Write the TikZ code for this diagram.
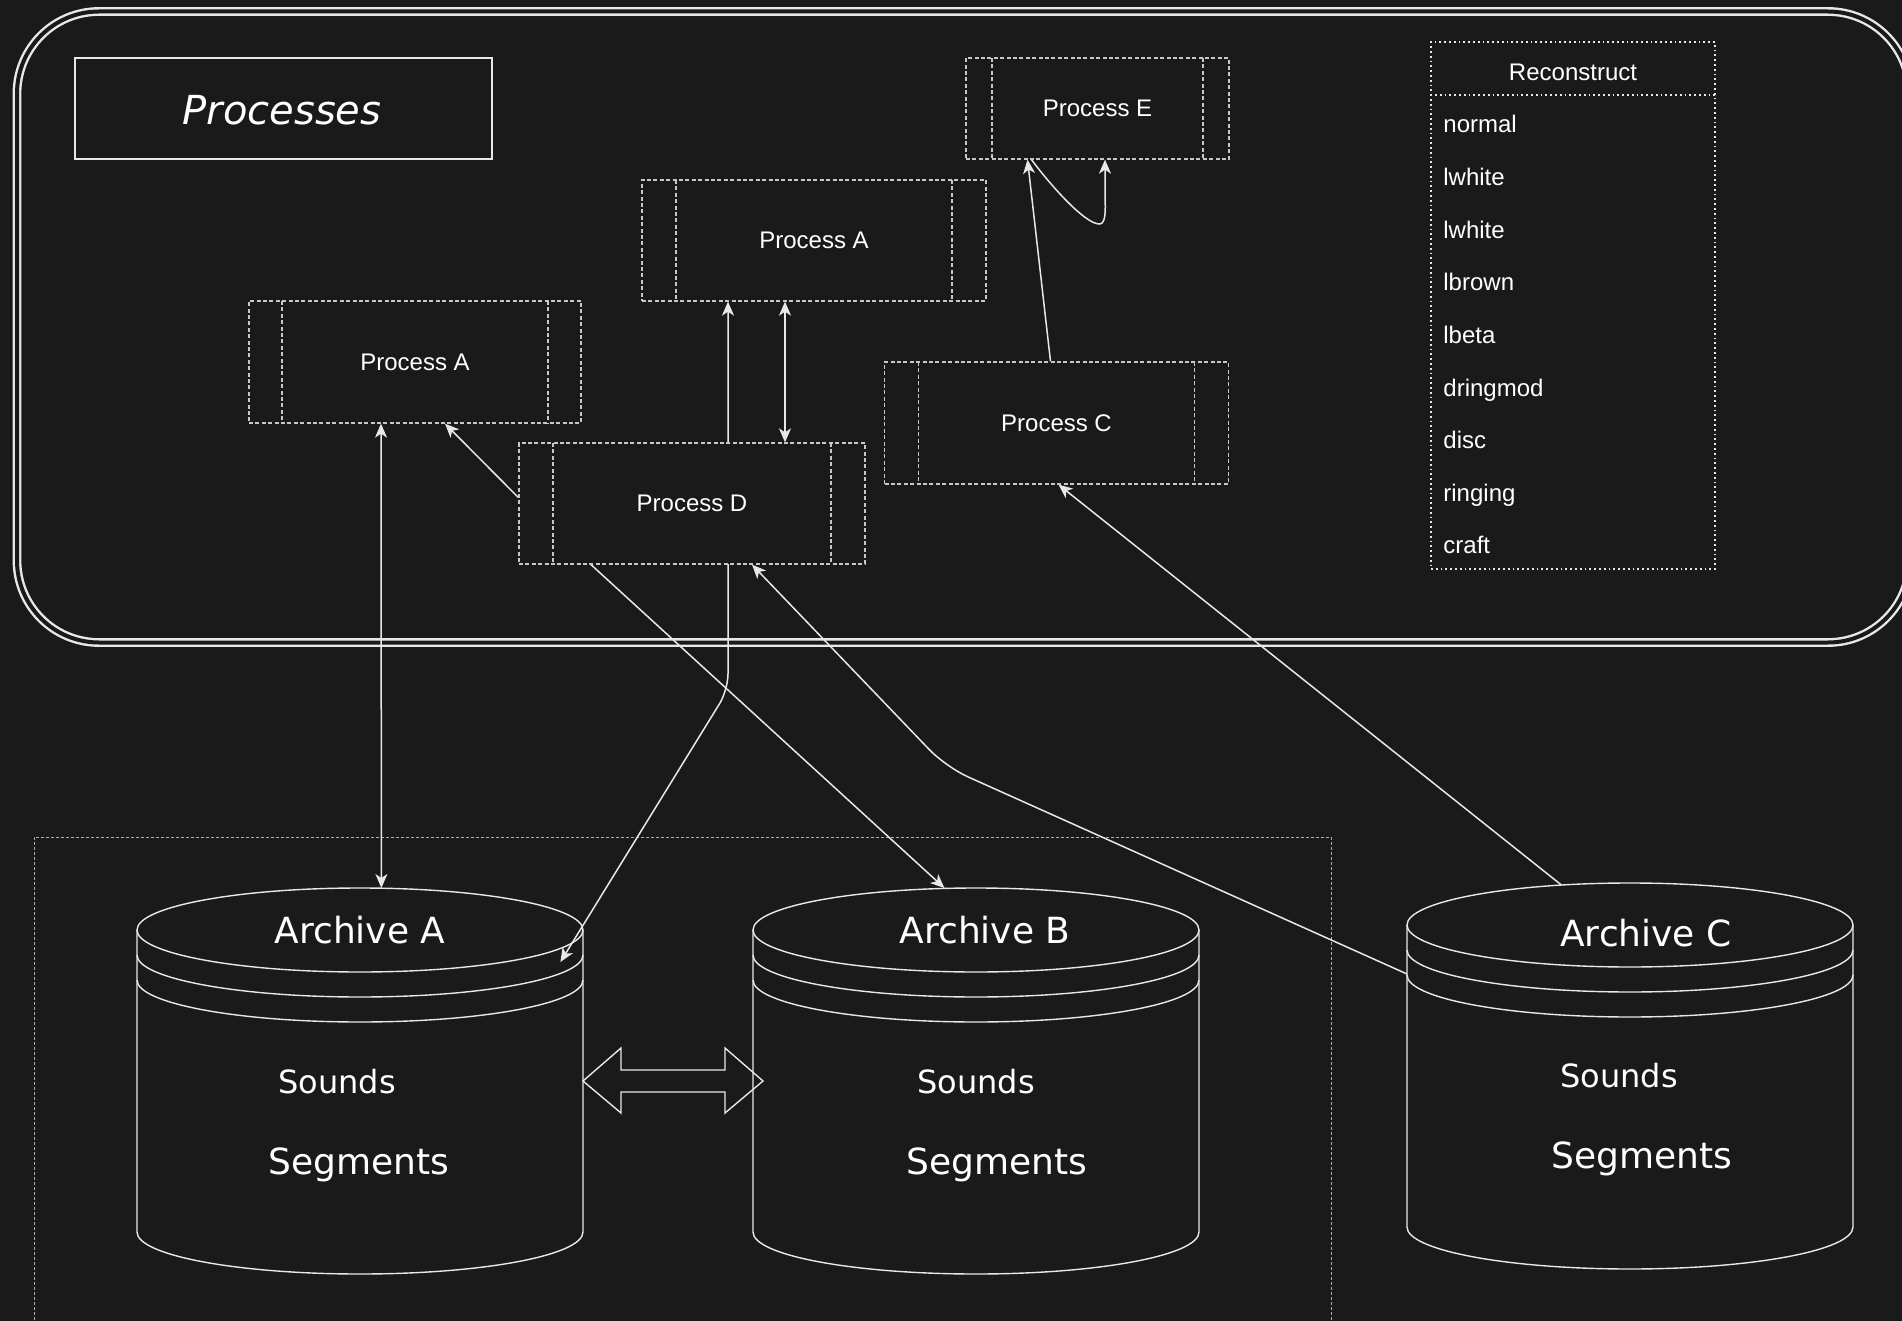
\documentclass[tikz,border=0pt]{standalone}
\usepackage{fontspec}
\setmainfont{Liberation Sans}
\newfontfamily\dvfont{DejaVu Sans}[ItalicFont={DejaVu Sans Oblique}]
\usetikzlibrary{arrows.meta,calc}
\definecolor{bgc}{RGB}{26,26,26}
\definecolor{ln}{RGB}{232,232,232}
\definecolor{dsh}{RGB}{200,200,200}
\definecolor{grp}{RGB}{175,175,175}
\pgfdeclarelayer{bglayer}
\pgfdeclarelayer{edgelayer}
\pgfsetlayers{bglayer,edgelayer,main}
\tikzset{
  procbox/.style={draw=dsh, fill=bgc, line width=0.65pt, dash pattern=on 2pt off 1.2pt,
    text=white, font=\fontsize{12}{14}\selectfont, inner sep=0pt,
    path picture={
      \draw[dsh, line width=0.65pt, dash pattern=on 2pt off 1.2pt]
        ([xshift=#1]path picture bounding box.north west) -- ([xshift=#1]path picture bounding box.south west);
      \draw[dsh, line width=0.65pt, dash pattern=on 2pt off 1.2pt]
        ([xshift=-#1]path picture bounding box.north east) -- ([xshift=-#1]path picture bounding box.south east);
    }},
  recline/.style={draw=ln, line width=0.9pt, dash pattern=on 0.9pt off 1.5pt},
  rtxt/.style={text=white, font=\fontsize{12}{14}\selectfont, inner sep=0pt},
  cyl/.style={draw=ln, line width=0.7pt},
  archlab/.style={text=white, font=\dvfont\fontsize{18}{20}\selectfont, inner sep=0pt, anchor=base},
  soundlab/.style={text=white, font=\dvfont\fontsize{16}{18}\selectfont, inner sep=0pt, anchor=base},
  edge/.style={draw=ln, line width=0.75pt},
  >={Stealth[length=7pt,width=6pt,inset=2pt]}
}
\newcommand{\archivecyl}[3]{%
  \node[inner sep=0pt, minimum width=223pt, minimum height=193pt, anchor=north west] (#1) at (#2,#3) {};
  \draw[cyl] (#2,#3+42) -- (#2,#3+344) arc[start angle=180,end angle=360,x radius=111.5pt,y radius=21pt] -- (#2+446,#3+42);
  \draw[cyl] (#2+223,#3+42) ellipse[x radius=111.5pt,y radius=21pt];
  \draw[cyl] (#2,#3+67) arc[start angle=180,end angle=360,x radius=111.5pt,y radius=21pt];
  \draw[cyl] (#2,#3+92) arc[start angle=180,end angle=360,x radius=111.5pt,y radius=21pt];
}
\begin{document}
\begin{tikzpicture}[x=0.5pt,y=-0.5pt]
\useasboundingbox (0,0) rectangle (1902,1321);
\begin{pgfonlayer}{bglayer}
  \fill[bgc] (0,0) rectangle (1902,1321);
  % outer container
  \draw[ln, line width=1.2pt, double=bgc, double distance=2pt, rounded corners=41pt] (17,11.5) rectangle (1910,642.5);
  % lower group frame
  \draw[grp, line width=0.5pt, dash pattern=on 1.5pt off 1pt] (34,1345) -- (34,837) -- (1331,837) -- (1331,1345);
  % archives
  \archivecyl{archA}{137}{888}
  \archivecyl{archB}{753}{888}
  \archivecyl{archC}{1407}{883}
  % double arrow between A and B
  \draw[cyl] (583,1081) -- (621,1048) -- (621,1070) -- (725,1070) -- (725,1048) -- (763,1081)
     -- (725,1113) -- (725,1092) -- (621,1092) -- (621,1113) -- cycle;
\end{pgfonlayer}

% title
\node[draw=ln, line width=0.8pt, minimum width=208.5pt, minimum height=50.5pt, inner sep=0pt] (title) at (283.5,108.5) {};
\node[text=white, inner sep=0pt, anchor=base, font=\dvfont\itshape\fontsize{20}{24}\selectfont] (titletxt) at (282,125) {Processes};

% processes
\node[procbox=13pt, minimum width=131.5pt, minimum height=50.5pt] (PE) at (1097.5,108.5) {Process E};
\node[procbox=17pt, minimum width=172pt, minimum height=60.5pt] (PA2) at (814,240.5) {Process A};
\node[procbox=16.5pt, minimum width=166pt, minimum height=61pt] (PA1) at (415,362) {Process A};
\node[procbox=17pt, minimum width=172pt, minimum height=61pt] (PC) at (1056.5,423) {Process C};
\node[procbox=17pt, minimum width=173pt, minimum height=60.5pt] (PD) at (692,503.5) {Process D};

% reconstruct table
\node[recline, minimum width=142pt, minimum height=263.5pt, inner sep=0pt] (recon) at (1573,305.5) {};
\draw[recline] ([yshift=-27pt]recon.north west) -- ([yshift=-27pt]recon.north east);
\node[rtxt, anchor=base] (rhead) at (1573,81) {Reconstruct};
\foreach \t [count=\i] in {normal,lwhite,lwhite,lbrown,lbeta,dringmod,disc,ringing,craft}
  \node[rtxt, anchor=base west] (item\i) at (1443,{133+52.6*(\i-1)}) {\t};

% archive labels
\node[archlab] (labA) at (360,943) {Archive A};
\node[archlab] (labB) at (985,943) {Archive B};
\node[archlab] (labC) at (1646,946) {Archive C};
\node[soundlab] (sndA) at (337,1093) {Sounds};
\node[soundlab] (sndB) at (976,1093) {Sounds};
\node[soundlab] (sndC) at (1619,1087) {Sounds};
\node[archlab] (segA) at (359,1174) {Segments};
\node[archlab] (segB) at (997,1174) {Segments};
\node[archlab] (segC) at (1642,1168) {Segments};

\begin{pgfonlayer}{edgelayer}
  \draw[edge,<->,rounded corners=8pt] ([xshift=-43pt]PA2.south) -- (728,690) -- ([xshift=100pt,yshift=-37pt]archA.north);
  \draw[edge,<->] ([xshift=-14.5pt]PA2.south) -- ([xshift=46.5pt]PD.north);
  \draw[edge,->] ([yshift=3pt]PD.west) -- ([xshift=15pt]PA1.south);
  \draw[edge,<->] ([xshift=-17pt]PA1.south) -- ([xshift=10.5pt]archA.north);
  \draw[edge,->] ([xshift=-50.5pt]PD.south) -- ([xshift=-16pt]archB.north);
  \draw[edge,->,rounded corners=12pt] ([yshift=-45.5pt]archC.north west) -- (946,767) -- ([xshift=30pt]PD.south);
  \draw[edge,->] ([xshift=-34.5pt,yshift=-1pt]archC.north) -- ([xshift=1pt]PC.south);
  \draw[edge,->] ([xshift=-3pt]PC.north) -- ([xshift=-35pt]PE.south);
  \draw[edge,->] ([xshift=-33pt]PE.south) .. controls (1048,182) and (1085,225) .. (1100,224)
     .. controls (1107,223) and (1105,205) .. (1105,190) -- ([xshift=3.75pt]PE.south);
\end{pgfonlayer}
\end{tikzpicture}
\end{document}
